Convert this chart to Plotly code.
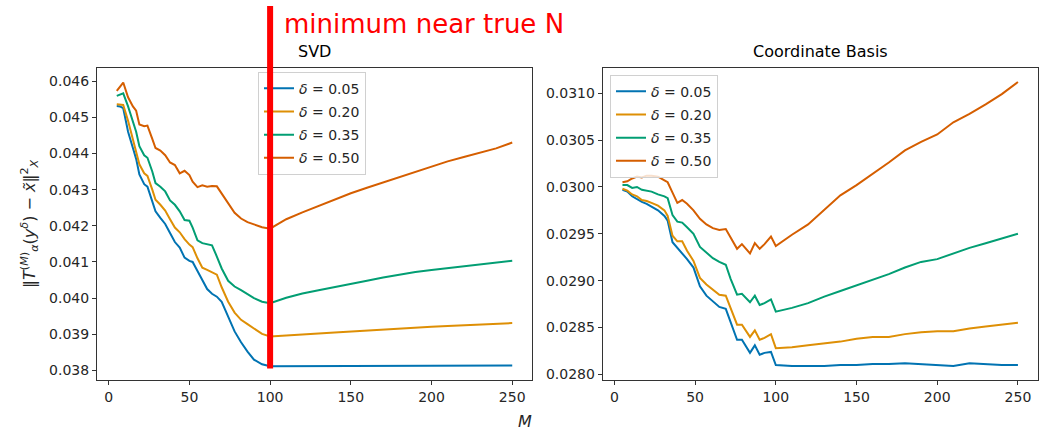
import plotly.graph_objects as go

# ---------------- data ----------------
m_svd = [5, 7, 9, 12, 15, 17, 19, 22, 24, 27, 29, 32, 35, 38, 41, 44, 47, 50, 52, 55,
         58, 61, 64, 67, 70, 74, 78, 82, 86, 90, 95, 100,
         110, 120, 130, 140, 150, 160, 170, 180, 190, 200, 210, 220, 230, 240, 250]

svd_005 = [0.04531, 0.04530, 0.04525, 0.04460, 0.04415, 0.04385, 0.04342, 0.04315, 0.04308, 0.04270,
           0.04240, 0.04222, 0.04205, 0.04180, 0.04155, 0.04140, 0.04112, 0.04103, 0.04100, 0.04075,
           0.04050, 0.04025, 0.04012, 0.04004, 0.03990, 0.03949, 0.03908, 0.03878, 0.03852, 0.03830,
           0.03817, 0.03812,
           0.03812, 0.03812, 0.03812, 0.03812, 0.03813, 0.03813, 0.03813, 0.03813, 0.03813, 0.03813,
           0.03814, 0.03814, 0.03814, 0.03814, 0.03814]
svd_020 = [0.04536, 0.04535, 0.04534, 0.04490, 0.04435, 0.04405, 0.04370, 0.04345, 0.04338, 0.04300,
           0.04272, 0.04258, 0.04242, 0.04218, 0.04195, 0.04182, 0.04163, 0.04148, 0.04141, 0.04110,
           0.04084, 0.04078, 0.04072, 0.04065, 0.04030, 0.03990, 0.03960, 0.03940, 0.03928, 0.03915,
           0.03901, 0.03894,
           0.03896, 0.03899, 0.03902, 0.03905, 0.03908, 0.03911, 0.03914, 0.03917, 0.03919, 0.03921,
           0.03923, 0.03925, 0.03927, 0.03929, 0.03931]
svd_035 = [0.04559, 0.04562, 0.04566, 0.04530, 0.04490, 0.04460, 0.04420, 0.04395, 0.04388, 0.04350,
           0.04318, 0.04308, 0.04295, 0.04270, 0.04258, 0.04240, 0.04216, 0.04214, 0.04195, 0.04160,
           0.04152, 0.04149, 0.04146, 0.04115, 0.04082, 0.04048, 0.04032, 0.04022, 0.04011, 0.04000,
           0.03990, 0.03986,
           0.04001, 0.04013, 0.04022, 0.04030, 0.04039, 0.04048, 0.04057, 0.04065, 0.04072, 0.04078,
           0.04083, 0.04088, 0.04093, 0.04098, 0.04103]
svd_050 = [0.04573, 0.04585, 0.04596, 0.04555, 0.04530, 0.04518, 0.04480, 0.04475, 0.04477, 0.04440,
           0.04415, 0.04408, 0.04395, 0.04375, 0.04368, 0.04345, 0.04352, 0.04340, 0.04322, 0.04307,
           0.04312, 0.04308, 0.04310, 0.04309, 0.04290, 0.04262, 0.04236, 0.04220, 0.04210, 0.04204,
           0.04196, 0.04192,
           0.04218, 0.04237, 0.04255, 0.04272, 0.04290, 0.04305, 0.04320, 0.04335, 0.04350, 0.04365,
           0.04378, 0.04390, 0.04402, 0.04414, 0.04430]

m_coord = [5, 8, 11, 14, 17, 20, 23, 27, 31, 33, 36, 39, 42, 45, 49, 53, 57, 61, 65, 69,
           72, 76, 79, 84, 87, 90, 93, 97, 100,
           110, 120, 130, 140, 150, 160, 170, 180, 190, 200, 210, 220, 230, 240, 250]

coord_005 = [0.02997, 0.02995, 0.02990, 0.02987, 0.02984, 0.02982, 0.02979, 0.02975, 0.02969, 0.02964,
             0.02941, 0.02935, 0.02930, 0.02923, 0.02914, 0.02894, 0.02884, 0.02878, 0.02872, 0.02870,
             0.02856, 0.02837, 0.02837, 0.02823, 0.02831, 0.02821, 0.02823, 0.02824, 0.02810,
             0.02809, 0.02809, 0.02809, 0.02810, 0.02810, 0.02811, 0.02811, 0.02812, 0.02811, 0.02810,
             0.02809, 0.02812, 0.02811, 0.02810, 0.02810]
coord_020 = [0.02998, 0.02996, 0.02992, 0.02990, 0.02986, 0.02985, 0.02983, 0.02980, 0.02975, 0.02969,
             0.02948, 0.02942, 0.02942, 0.02932, 0.02921, 0.02903, 0.02896, 0.02890, 0.02885, 0.02884,
             0.02870, 0.02853, 0.02853, 0.02840, 0.02847, 0.02837, 0.02839, 0.02843, 0.02828,
             0.02829, 0.02831, 0.02833, 0.02835, 0.02838, 0.02840, 0.02840, 0.02843, 0.02845, 0.02846,
             0.02846, 0.02849, 0.02851, 0.02853, 0.02855]
coord_035 = [0.03002, 0.03002, 0.02999, 0.03000, 0.02997, 0.02996, 0.02995, 0.02992, 0.02990, 0.02988,
             0.02970, 0.02963, 0.02962, 0.02957, 0.02950, 0.02936, 0.02930, 0.02924, 0.02920, 0.02917,
             0.02902, 0.02885, 0.02886, 0.02877, 0.02884, 0.02874, 0.02876, 0.02880, 0.02867,
             0.02871, 0.02876, 0.02883, 0.02889, 0.02895, 0.02901, 0.02907, 0.02914, 0.02920, 0.02923,
             0.02929, 0.02935, 0.02940, 0.02945, 0.02950]
coord_050 = [0.03005, 0.03006, 0.03009, 0.03011, 0.03010, 0.03012, 0.03012, 0.03011, 0.03007, 0.03005,
             0.02994, 0.02983, 0.02986, 0.02982, 0.02975, 0.02966, 0.02960, 0.02956, 0.02954, 0.02955,
             0.02946, 0.02934, 0.02939, 0.02929, 0.02940, 0.02934, 0.02939, 0.02947, 0.02937,
             0.02949, 0.02960, 0.02976, 0.02991, 0.03002, 0.03014, 0.03026, 0.03039, 0.03048, 0.03056,
             0.03069, 0.03078, 0.03088, 0.03099, 0.03112]

deltas = ["0.05", "0.20", "0.35", "0.50"]
colors = ["#0173b2", "#de8f05", "#029e73", "#d55e00"]
x_ticks = [0, 50, 100, 150, 200, 250]
svd_ticks = [0.038, 0.039, 0.040, 0.041, 0.042, 0.043, 0.044, 0.045, 0.046]
coord_ticks = [0.0280, 0.0285, 0.0290, 0.0295, 0.0300, 0.0305, 0.0310]
true_n = 100

# ---------------- figure ----------------
W, H = 1043, 433
FONT = "DejaVu Sans"
TXT = "#262626"

fig = go.Figure()
for i, (d, c, ys) in enumerate(zip(deltas, colors, [svd_005, svd_020, svd_035, svd_050])):
    fig.add_trace(go.Scatter(x=m_svd, y=ys, mode="lines", line=dict(color=c, width=2),
                             name=f"<i>δ</i> = {d}", legend="legend", legendgroup=f"a{i}",
                             xaxis="x", yaxis="y"))
for i, (d, c, ys) in enumerate(zip(deltas, colors, [coord_005, coord_020, coord_035, coord_050])):
    fig.add_trace(go.Scatter(x=m_coord, y=ys, mode="lines", line=dict(color=c, width=2),
                             name=f"<i>δ</i> = {d}", legend="legend2", legendgroup=f"b{i}",
                             xaxis="x2", yaxis="y2"))

def px_x(p):
    return p / W

def px_y(p):
    return 1 - p / H

axis_common = dict(showline=True, linecolor="#333", linewidth=1, mirror=True,
                   ticks="outside", ticklen=4, tickcolor="#333", tickwidth=1,
                   showgrid=False, zeroline=False,
                   tickfont=dict(family=FONT, size=14, color=TXT))

legend_common = dict(xanchor="left", yanchor="top",
                     bgcolor="rgba(255,255,255,0.8)", bordercolor="#d0d0d0", borderwidth=1,
                     font=dict(family=FONT, size=14, color=TXT), tracegroupgap=2, itemwidth=30)

fig.update_layout(
    width=W, height=H, margin=dict(l=0, r=0, t=0, b=0),
    paper_bgcolor="white", plot_bgcolor="white",
    font=dict(family=FONT, color=TXT),
    xaxis=dict(domain=[px_x(97), px_x(532)], range=[-7.25, 262.25], tickvals=x_ticks,
               anchor="y", **axis_common),
    yaxis=dict(domain=[px_y(382), px_y(68)], range=[0.03773, 0.04637], tickvals=svd_ticks,
               tickformat=".3f", anchor="x", **axis_common),
    xaxis2=dict(domain=[px_x(602.7), px_x(1037.7)], range=[-7.25, 262.25], tickvals=x_ticks,
                anchor="y2", **axis_common),
    yaxis2=dict(domain=[px_y(382), px_y(68)], range=[0.027938, 0.031272], tickvals=coord_ticks,
                tickformat=".4f", anchor="x2", **axis_common),
    legend=dict(x=px_x(258), y=px_y(72), **legend_common),
    legend2=dict(x=px_x(610), y=px_y(75), **legend_common),
    showlegend=True,
)

annotations = [
    dict(text="SVD", x=(px_x(97) + px_x(532)) / 2, y=px_y(52), xref="paper", yref="paper",
         showarrow=False, font=dict(family=FONT, size=16, color="black"),
         xanchor="center", yanchor="middle"),
    dict(text="Coordinate Basis", x=(px_x(602.7) + px_x(1037.7)) / 2, y=px_y(52),
         xref="paper", yref="paper", showarrow=False,
         font=dict(family=FONT, size=16, color="black"), xanchor="center", yanchor="middle"),
    dict(text="<i>M</i>", x=px_x(525), y=px_y(423.5), xref="paper", yref="paper", showarrow=False,
         font=dict(family=FONT, size=16, color=TXT), xanchor="center", yanchor="middle",
         borderpad=0),
    dict(text="‖<i>T</i><sup>(<i>M</i>)</sup><sub><i>α</i></sub>(<i>y</i><sup><i>δ</i></sup>) − <i>x̃</i>‖<sup>2</sup><sub><i>X</i></sub>",
         x=px_x(30), y=px_y(225), xref="paper", yref="paper", showarrow=False, textangle=-90,
         font=dict(family=FONT, size=16, color=TXT), xanchor="center", yanchor="middle"),
    dict(text="minimum near true N", x=px_x(282), y=px_y(24), xref="paper", yref="paper",
         showarrow=False, font=dict(family=FONT, size=26, color="#ff0000"),
         xanchor="left", yanchor="middle"),
    # thick red marker line at the true N
    dict(text="", x=true_n, y=px_y(6), xref="x", yref="paper", showarrow=True,
         ax=0, ay=364, axref="pixel", ayref="pixel", arrowhead=0, arrowwidth=6,
         arrowcolor="#ff0000", standoff=0, startstandoff=0),
]
fig.update_layout(annotations=annotations)

fig.write_html("out.html",
               config={"displayModeBar": False},
               post_script="document.body.style.margin='0px';document.body.style.padding='0px';"
                           "document.documentElement.style.overflow='hidden';")
